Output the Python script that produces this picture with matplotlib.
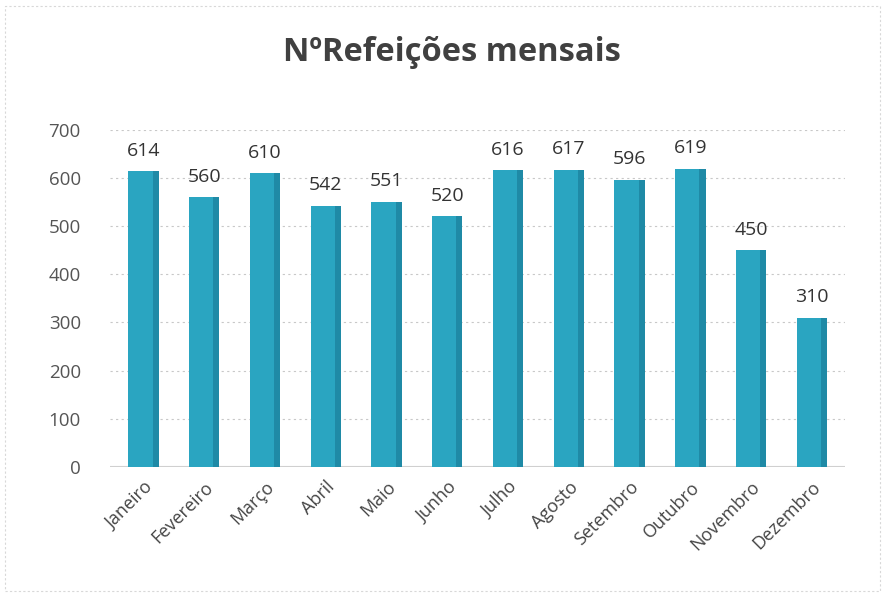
import matplotlib.pyplot as plt
from matplotlib.patches import Rectangle

months = ["Janeiro", "Fevereiro", "Março", "Abril", "Maio", "Junho",
          "Julho", "Agosto", "Setembro", "Outubro", "Novembro", "Dezembro"]
refeicoes = [614, 560, 610, 542, 551, 520, 616, 617, 596, 619, 450, 310]
yticks = [0, 100, 200, 300, 400, 500, 600, 700]

plt.rcParams['font.family'] = ['Open Sans', 'DejaVu Sans']

fig = plt.figure(figsize=(8.87, 5.98), dpi=100)
fig.patches.append(Rectangle((0.006, 0.012), 0.986, 0.978, transform=fig.transFigure,
                             fill=False, edgecolor='#d8d8d8', linewidth=0.8, linestyle=(0, (2, 2))))
ax = fig.add_axes([0.124, 0.219, 0.829, 0.564])

x = list(range(len(months)))
ax.bar(x, refeicoes, width=0.5, color='#2aa5c1', zorder=3)
# darker right face to hint the 3D column look
ax.bar([i + 0.2 for i in x], refeicoes, width=0.1, color='#1f8aa6', zorder=3)

for i, v in zip(x, refeicoes):
    ax.text(i, v + 24, str(v), ha='center', va='bottom', fontsize=14, color='#333333')

ax.set_xlim(-0.55, 11.55)
ax.set_ylim(0, 700)
ax.set_yticks(yticks)
ax.set_xticks(x)
ax.set_xticklabels(months, rotation=45, ha='right', rotation_mode='anchor', fontsize=13, color='#454545')
ax.tick_params(axis='y', labelsize=13.5, labelcolor='#555555', length=0, pad=21)
ax.tick_params(axis='x', length=0, pad=8)
ax.grid(axis='y', color='#c8c8c8', linestyle=(0, (2, 3)), linewidth=0.8, zorder=0)
for s in ax.spines.values():
    s.set_visible(False)
ax.axhline(0, color='#d0d0d0', linewidth=1.5, zorder=2)

fig.text(0.51, 0.913, "NºRefeições mensais", ha='center', va='center',
         fontsize=23.5, fontweight='bold', color='#404040')

fig.savefig('out.png', dpi=100)
